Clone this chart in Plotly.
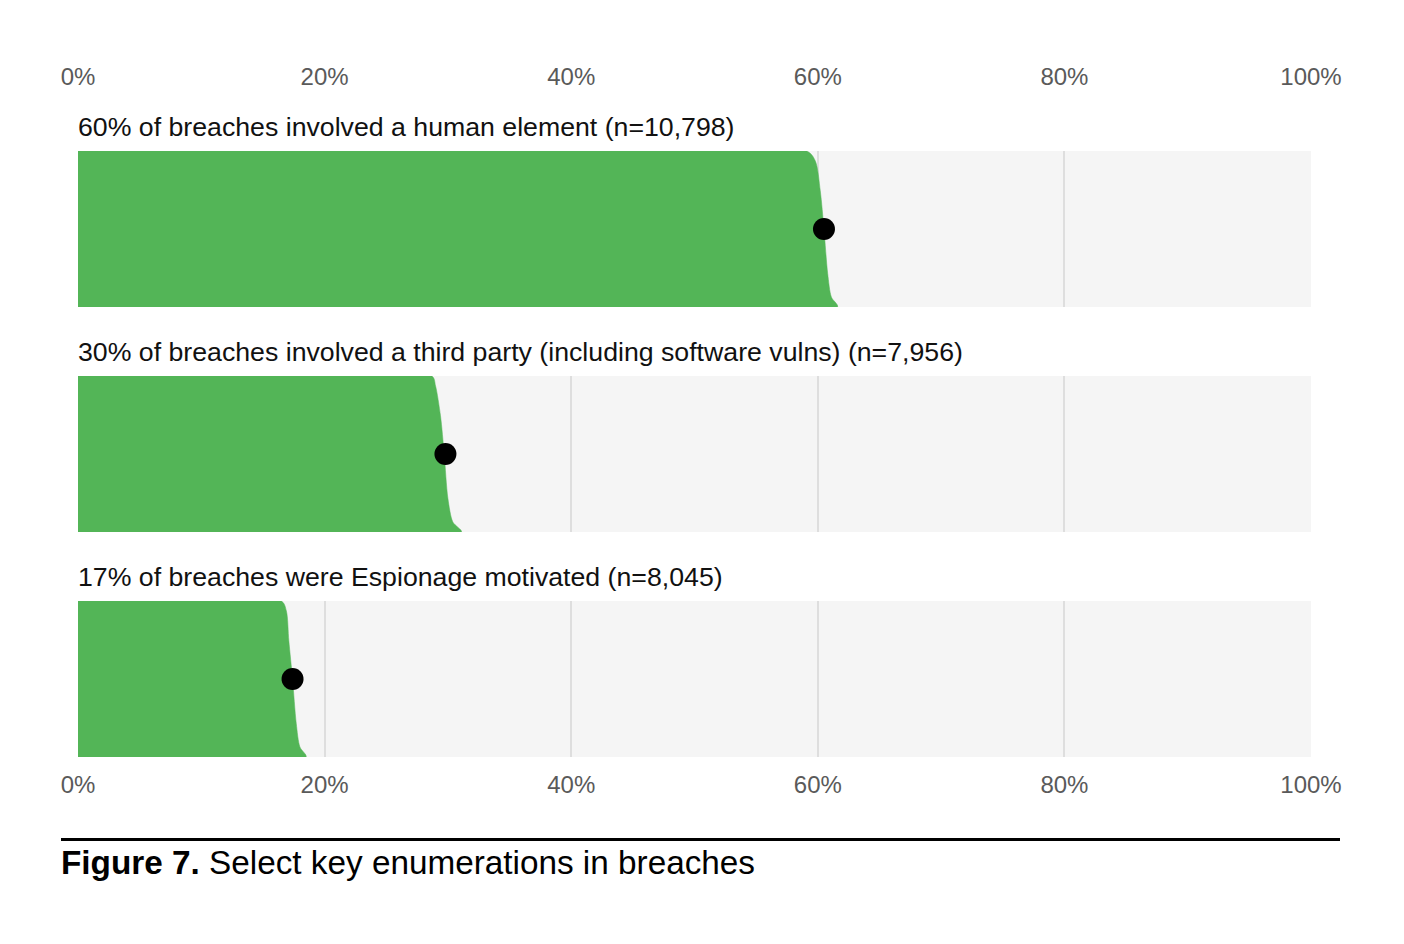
import plotly.graph_objects as go

titles = [
    "60% of breaches involved a human element (n=10,798)",
    "30% of breaches involved a third party (including software vulns) (n=7,956)",
    "17% of breaches were Espionage motivated (n=8,045)",
]
values = [60.5, 29.8, 17.4]
edge_heights = [1.0, 0.936, 0.745, 0.5, 0.216, 0.064, 0.0]
edge_x = [
    [59.1, 59.8, 60.2, 60.5, 60.8, 61.1, 61.6],
    [28.7, 29.0, 29.4, 29.7, 30.0, 30.4, 31.1],
    [16.5, 16.9, 17.1, 17.4, 17.7, 18.0, 18.5],
]
tick_vals = [0, 20, 40, 60, 80, 100]
tick_text = ["0%", "20%", "40%", "60%", "80%", "100%"]
caption_bold = "Figure 7."
caption_rest = " Select key enumerations in breaches"

W, H = 1404, 944
GREEN = "#53b557"
BG = "#f5f5f5"
GRID = "#dedede"
FONT = "Liberation Sans, Arial, sans-serif"

panel_px = [(151, 307), (376, 532), (601, 757)]
x_dom = [78 / W, 1311 / W]

fig = go.Figure()
layout = dict(
    width=W, height=H, margin=dict(l=0, r=0, t=0, b=0, autoexpand=False),
    paper_bgcolor="white", plot_bgcolor=BG, showlegend=False,
)
annotations = []
for i in range(3):
    n = "" if i == 0 else str(i + 1)
    xa, ya = "x" + n, "y" + n
    xs = [0] + edge_x[i] + [0]
    ys = [1.0] + edge_heights + [0.0]
    fig.add_trace(go.Scatter(
        x=xs, y=ys, xaxis=xa, yaxis=ya, mode="lines", fill="toself",
        fillcolor=GREEN, line=dict(color=GREEN, width=0.5, shape="spline", smoothing=0.8),
        hoverinfo="skip",
    ))
    fig.add_trace(go.Scatter(
        x=[values[i]], y=[0.5], xaxis=xa, yaxis=ya, mode="markers",
        marker=dict(color="black", size=22), hoverinfo="skip",
    ))
    top, bot = panel_px[i]
    xaxis = dict(
        domain=x_dom, range=[0, 100], anchor=ya, tickvals=tick_vals, ticktext=tick_text,
        showgrid=True, gridcolor=GRID, gridwidth=2, zeroline=False, showline=False,
        ticks="", tickfont=dict(family=FONT, size=24, color="#5a5a5a"),
        showticklabels=False, fixedrange=True, automargin=False,
    )
    if i == 0:
        xaxis.update(side="top", showticklabels=True, ticklabelstandoff=60)
    if i == 2:
        xaxis.update(side="bottom", showticklabels=True, ticklabelstandoff=11)
    yaxis = dict(
        domain=[1 - bot / H, 1 - top / H], range=[0, 1], anchor=xa,
        showgrid=False, zeroline=False, showticklabels=False, showline=False,
        fixedrange=True, automargin=False,
    )
    layout["xaxis" + n] = xaxis
    layout["yaxis" + n] = yaxis
    annotations.append(dict(
        text=titles[i], xref="paper", yref="paper", x=76 / W, y=1 - (top - 24) / H,
        xanchor="left", yanchor="middle", showarrow=False,
        font=dict(family=FONT, size=26.7, color="#111111"),
    ))

annotations.append(dict(
    text="<b>" + caption_bold + "</b>" + caption_rest, xref="paper", yref="paper",
    x=59 / W, y=1 - 862 / H, xanchor="left", yanchor="middle", showarrow=False,
    font=dict(family=FONT, size=33.3, color="black"),
))
layout["annotations"] = annotations
layout["shapes"] = [dict(
    type="line", xref="paper", yref="paper", x0=61 / W, x1=1340 / W,
    y0=1 - 839.5 / H, y1=1 - 839.5 / H, line=dict(color="black", width=3),
)]
fig.update_layout(**layout)
fig.write_html("out.html")
